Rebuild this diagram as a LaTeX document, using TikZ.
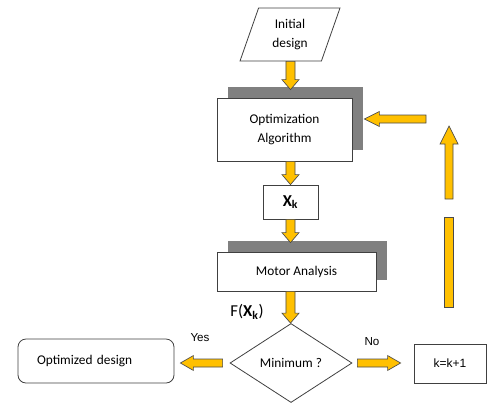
\documentclass[tikz,border=0pt]{standalone}
\usepackage{fontspec}
\setmainfont{Carlito}
\newfontfamily\arialish{Liberation Sans}
\usetikzlibrary{calc, shapes.geometric, shadows}
\definecolor{gold}{HTML}{FFC000}
\definecolor{goldline}{HTML}{4A4A4A}
\newcommand\blkshaft{3.4pt}
\newcommand\blkhead{6.4pt}
\newcommand\blklen{7.5pt}
\tikzset{
  blk shaft/.store in=\blkshaft,
  blk head/.store in=\blkhead,
  blk len/.store in=\blklen,
  blockarrow/.style={fill=gold, draw=goldline, line width=0.5pt,
    to path={let \p1=($(\tikztotarget)!\blklen!(\tikztostart)$) in
      ($(\tikztostart)!\blkshaft!90:(\tikztotarget)$)
      -- ($(\p1)!\blkshaft!90:(\tikztotarget)$)
      -- ($(\p1)!\blkhead!90:(\tikztotarget)$)
      -- (\tikztotarget)
      -- ($(\p1)!\blkhead!-90:(\tikztotarget)$)
      -- ($(\p1)!\blkshaft!-90:(\tikztotarget)$)
      -- ($(\tikztostart)!\blkshaft!-90:(\tikztotarget)$) -- cycle}},
  flatarrow/.style={blockarrow, blk shaft=3pt, blk head=5.6pt, blk len=9.75pt},
  plainbox/.style={draw=black!75, line width=0.6pt, fill=white, align=center,
    font=\fontsize{10}{14}\selectfont},
  shadowbox/.style={plainbox, general shadow={fill=black!50, shadow xshift=7.9pt, shadow yshift=7.9pt}},
  lbl/.style={font=\arialish\fontsize{8.7}{10}\selectfont}
}
\begin{document}
\begin{tikzpicture}[x=0.75pt, y=-0.75pt]
\useasboundingbox (0,0) rectangle (488,404);
% boxes
\node[plainbox, trapezium, trapezium left angle=71, trapezium right angle=109,
  trapezium stretches=true, minimum width=75pt, minimum height=39.75pt, inner sep=0pt] (init) at (290,34.5) {Initial\\design};
\node[shadowbox, minimum width=101.25pt, minimum height=47.25pt] (alg) at (284.5,129.5) {Optimization\\Algorithm};
\node[plainbox, minimum width=41.25pt, minimum height=25.5pt, font=\fontsize{12.5}{15}\selectfont] (xk) at (290.5,202) {\textbf{X\textsubscript{k}}};
\node[shadowbox, minimum width=119.25pt, minimum height=29.25pt] (motor) at (296.5,271.5) {Motor Analysis};
\node[plainbox, diamond, minimum width=91.5pt, minimum height=59.25pt, inner sep=0pt] (diam) at (291,363) {Minimum ?};
\node[plainbox, rounded corners=6pt, align=left, text width=88.5pt, inner xsep=14.25pt, minimum height=33pt] (opt) at (96,361) {Optimized design};
\node[plainbox, minimum width=54pt, minimum height=29.25pt, font=\arialish\fontsize{9}{11}\selectfont] (k) at (450,363.5) {k=k+1};
% labels
\node[font=\fontsize{12.5}{15}\selectfont] (fx) at (247,312) {F(\textbf{X\textsubscript{k}})};
\node[lbl] (yes) at (200,338) {Yes};
\node[lbl] (no) at (372,342) {No};
% arrows down the middle
\draw[blockarrow] (init.south -| xk) to ($(alg.north -| xk)+(0,-8)$);
\draw[blockarrow] (alg.south -| xk) to (xk.north);
\draw[blockarrow] (xk.south) to ($(motor.north -| xk)+(0,-9)$);
\draw[blockarrow] (motor.south -| xk) to (diam.north -| xk);
\draw[flatarrow] ($(diam.west)+(-7,0)$) to ($(opt.east |- diam.west)+(6,0)$);
\draw[flatarrow] ($(diam.east)+(5,0)$) to ($(k.west |- diam.east)+(-13,0)$);
% feedback loop
\coordinate (bar bottom) at (448.5,307);
\coordinate (bar top) at (448.5,217);
\coordinate (up start) at (449,199);
\coordinate (up end) at (449,126);
\coordinate (back start) at (426,119);
\draw[fill=gold, draw=goldline, line width=0.5pt] ($(bar bottom)+(-4.5,0)$) rectangle ($(bar top)+(4.5,0)$);
\draw[blockarrow, blk shaft=3pt, blk head=6.75pt, blk len=13.5pt] (up start) to (up end);
\draw[flatarrow, blk len=11.25pt] (back start) to ($(alg.east)+(12,-10.5)$);
\end{tikzpicture}
\end{document}
